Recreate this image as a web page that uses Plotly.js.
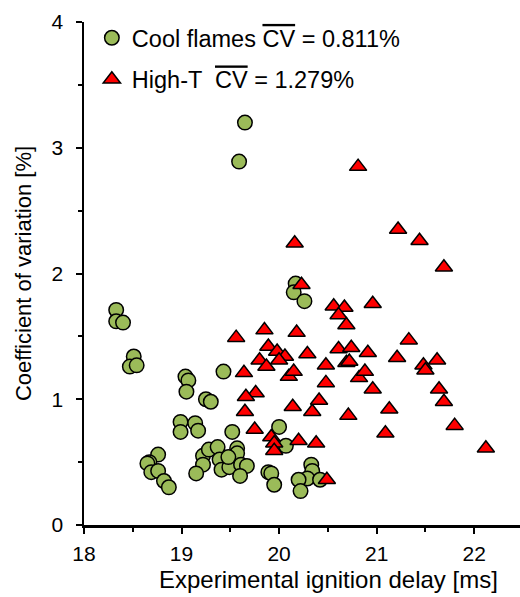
<!DOCTYPE html>
<html>
<head>
<meta charset="utf-8">
<script src="https://cdn.plot.ly/plotly-3.0.1.min.js"></script>
<style>html,body{margin:0;padding:0;background:#fff;}#chart{width:520px;height:597px;}</style>
</head>
<body>
<div id="chart"></div>
<script>
const coolX = [18.33,18.33,18.40,18.51,18.47,18.54,19.04,19.07,19.05,19.43,19.25,19.30,18.99,18.99,19.14,19.17,19.52,18.76,18.67,18.65,18.69,18.76,18.82,18.87,19.22,19.28,19.37,19.22,19.15,19.39,19.41,19.49,19.57,19.57,19.61,19.67,19.60,19.48,20.00,20.07,19.89,19.92,19.95,20.33,20.34,20.29,20.20,20.22,20.42,19.65,19.59,20.17,20.15,20.26];
const coolY = [1.71,1.62,1.61,1.34,1.26,1.27,1.18,1.15,1.06,1.22,1.00,0.98,0.82,0.74,0.81,0.75,0.74,0.56,0.50,0.49,0.42,0.43,0.35,0.30,0.55,0.60,0.62,0.48,0.41,0.52,0.44,0.46,0.61,0.57,0.48,0.47,0.39,0.54,0.78,0.63,0.42,0.41,0.32,0.48,0.43,0.37,0.36,0.27,0.36,3.20,2.89,1.92,1.85,1.78];
const highX = [19.56,19.85,20.18,19.89,19.98,20.06,19.80,19.87,20.00,19.64,20.10,20.15,19.76,19.66,19.65,19.75,19.92,19.95,19.95,20.14,20.20,20.38,20.34,20.41,20.49,20.23,20.16,20.81,21.22,21.44,21.69,20.56,20.67,20.61,20.69,20.96,21.33,20.29,20.61,20.74,20.91,20.48,20.69,20.72,20.82,20.88,21.21,21.48,21.50,21.62,20.48,20.96,21.64,21.69,20.71,21.13,21.80,21.09,22.12];
const highY = [1.49,1.55,1.53,1.42,1.38,1.34,1.31,1.26,1.31,1.21,1.18,1.22,1.05,1.02,0.90,0.76,0.70,0.65,0.59,0.94,0.67,0.65,0.90,0.99,0.36,1.91,2.24,2.85,2.35,2.26,2.05,1.74,1.73,1.67,1.59,1.76,1.47,1.36,1.40,1.41,1.37,1.27,1.29,1.30,1.17,1.22,1.33,1.27,1.23,1.31,1.13,1.08,1.08,0.98,0.87,0.92,0.79,0.73,0.61];
const coolName = 'Cool flames <span style="text-decoration:overline">CV</span> = 0.811%';
const highName = 'High-T  <span style="text-decoration:overline">CV</span> = 1.279%';
const xTicks = [18,19,20,21,22];
const yTicks = [0,1,2,3,4];
const xTitle = 'Experimental ignition delay [ms]';
const yTitle = 'Coefficient of variation [%]';

const FONT = 'Liberation Sans, Arial, sans-serif';
const traces = [
  {x: coolX, y: coolY, type:'scatter', mode:'markers', name: coolName, legendgroup:'a',
   marker:{symbol:'circle', size:14.5, color:'#9BBB59', line:{color:'#000', width:1.5}}},
  {x: highX, y: highY, type:'scatter', mode:'markers', name: highName, legendgroup:'b',
   marker:{symbol:'triangle-up', size:15, color:'#FF0000', line:{color:'#000', width:1.5}}}
];
const axisCommon = {
  showgrid:false, zeroline:false, showline:true, linecolor:'#000', linewidth:2.5,
  ticks:'outside', ticklen:6, tickwidth:2, tickcolor:'#000',
  tickfont:{family:FONT, size:21, color:'#000'}
};
const layout = {
  width:520, height:597,
  margin:{l:84, r:0, t:22, b:72},
  paper_bgcolor:'#fff', plot_bgcolor:'#fff',
  font:{family:FONT, color:'#000'},
  showlegend:true,
  legend:{x:0.018, y:1.012, xanchor:'left', yanchor:'top', bgcolor:'rgba(0,0,0,0)',
          font:{family:FONT, size:23.5, color:'#000'}, tracegroupgap:8, traceorder:'grouped'},
  xaxis: Object.assign({}, axisCommon, {
    range:[18, 22.47], tickvals:xTicks, ticktext:xTicks.map(String),
    minor:{dtick:0.5, tick0:18, ticks:'outside', ticklen:4, tickwidth:2, tickcolor:'#000'},
    ticklabelstandoff:2
  }),
  yaxis: Object.assign({}, axisCommon, {
    range:[0, 4], tickvals:yTicks, ticktext:yTicks.map(String),
    minor:{dtick:0.5, tick0:0, ticks:'outside', ticklen:4, tickwidth:2, tickcolor:'#000'},
    ticklabelstandoff:8,
    title:{text:yTitle, font:{family:FONT, size:22, color:'#000'}, standoff:14}
  }),
  annotations:[
    {text:xTitle, xref:'paper', yref:'paper', x:(328-84)/436, y:-(579-525)/503,
     xanchor:'center', yanchor:'middle', showarrow:false,
     font:{family:FONT, size:24, color:'#000'}}
  ]
};
Plotly.newPlot('chart', traces, layout, {staticPlot:true, displayModeBar:false});
</script>
</body>
</html>
